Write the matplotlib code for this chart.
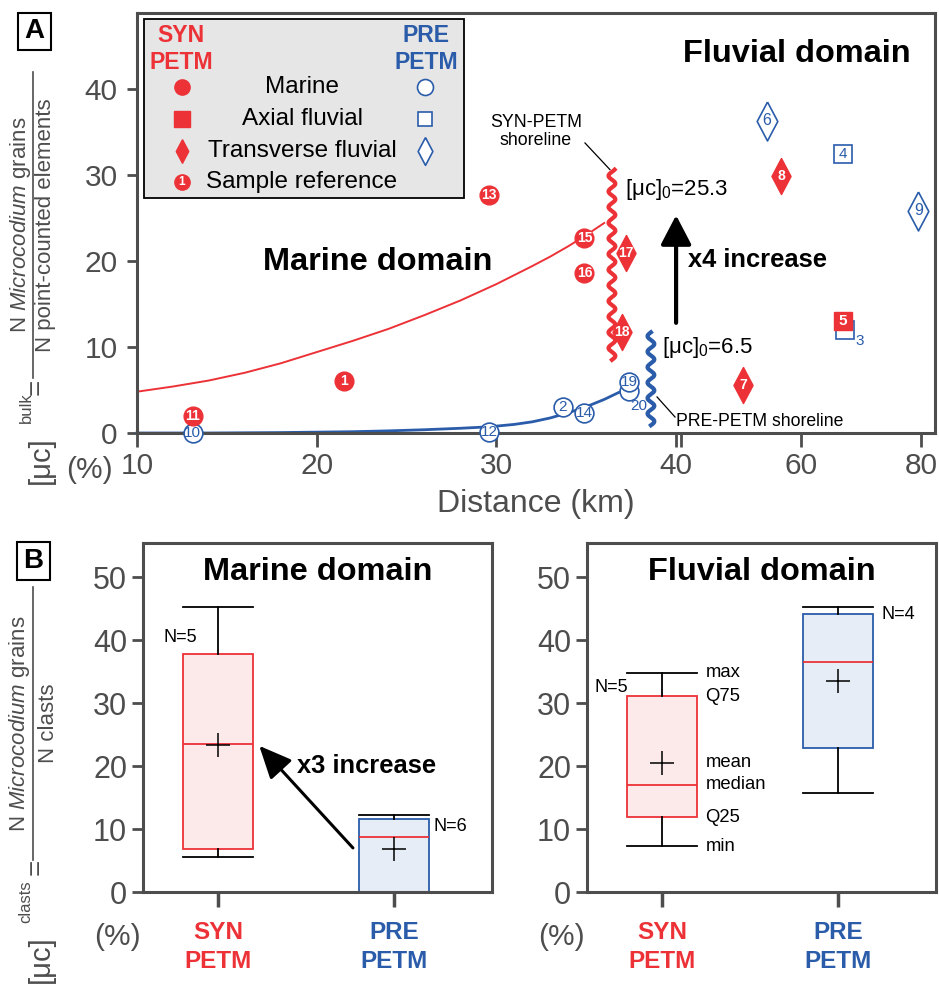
import numpy as np
import matplotlib.pyplot as plt
from matplotlib.patches import Rectangle
from matplotlib.lines import Line2D

plt.rcParams['font.family'] = ['Liberation Sans', 'DejaVu Sans']
plt.rcParams['mathtext.fontset'] = 'custom'
plt.rcParams['mathtext.rm'] = 'Liberation Sans'
plt.rcParams['mathtext.it'] = 'Liberation Sans:italic'
plt.rcParams['mathtext.bf'] = 'Liberation Sans:bold'

RED = '#ec3237'
BLUE = '#2a5caa'
GREY = '#4d4d4d'

# ── Panel A: samples (distance km, [uc]bulk %) ───────────────────────────────
syn_marine_id = [11, 1, 13, 15, 16]
syn_marine_x = [13.1, 21.5, 29.6, 34.9, 34.9]
syn_marine_y = [2.0, 6.0, 27.6, 22.7, 18.6]

syn_axial_id = [5]
syn_axial_x = [67.0]
syn_axial_y = [13.0]

syn_trans_id = [17, 18, 8, 7]
syn_trans_x = [37.2, 37.0, 56.7, 50.3]
syn_trans_y = [20.9, 11.7, 29.9, 5.6]

pre_marine_id = [10, 12, 2, 14, 20, 19]
pre_marine_x = [13.1, 29.6, 33.7, 34.9, 37.4, 37.4]
pre_marine_y = [0.0, 0.1, 3.0, 2.3, 4.9, 5.9]

pre_axial_id = [4, 3]
pre_axial_x = [67.0, 67.3]
pre_axial_y = [32.4, 12.0]

pre_trans_id = [6, 9]
pre_trans_x = [54.3, 79.5]
pre_trans_y = [36.3, 25.8]

# labels drawn beside (not inside) their symbol, offset in pixels
label_offset = {20: (9, -15), 3: (15, -11)}

# trend curves
red_curve_x = [10, 12, 14, 16, 18, 20, 22, 24, 26, 28, 30, 32, 33, 34, 35, 36]
red_curve_y = [4.8, 5.4, 6.1, 7.0, 8.1, 9.4, 10.7, 12.1, 13.7, 15.4, 17.3, 19.4,
               20.5, 21.7, 23.0, 24.4]
blue_curve_x = [10, 14, 18, 22, 24, 26, 28, 29.6, 31, 32, 33, 34, 35, 36, 36.9]
blue_curve_y = [0.0, 0.0, 0.05, 0.15, 0.25, 0.38, 0.55, 0.72, 1.0, 1.3, 1.75,
                2.35, 3.05, 3.9, 4.8]

# ── Panel B: box statistics ([uc]clasts %) ───────────────────────────────────
groups = ['SYN\nPETM', 'PRE\nPETM']
marine_min = [5.6, 0.0]
marine_q25 = [6.8, 0.0]
marine_med = [23.5, 8.8]
marine_q75 = [37.8, 11.6]
marine_max = [45.2, 12.2]
marine_mean = [23.3, 6.8]
marine_n = [5, 6]

fluvial_min = [7.3, 15.7]
fluvial_q25 = [11.9, 22.9]
fluvial_med = [17.0, 36.5]
fluvial_q75 = [31.1, 44.1]
fluvial_max = [34.8, 45.2]
fluvial_mean = [20.5, 33.5]
fluvial_n = [5, 4]

# ── broken distance axis: 10-40 km stretched, 40-80 km compressed ────────────
GAP, K = 0.28, 0.334


def fwd(x):
    x = np.asarray(x, dtype=float)
    return np.where(x <= 40, x, 40 + GAP + (x - 40) * K)


def inv(u):
    u = np.asarray(u, dtype=float)
    return np.where(u <= 40, u, np.where(u < 40 + GAP, 40.0, 40 + (u - 40 - GAP) / K))


DIAMOND = [(0, 1), (0.53, 0), (0, -1), (-0.53, 0), (0, 1)]

fig = plt.figure(figsize=(9.39, 9.84), dpi=100)
W, H = 939, 984


def fx(px):
    return px / W


def fy(py):
    return 1 - py / H


# ── Panel A ──────────────────────────────────────────────────────────────────
ax = fig.add_axes([fx(137), fy(433), 798 / W, 420 / H])
ax.set_xscale('function', functions=(fwd, inv))
ax.set_xlim(10, 82.3)
ax.set_ylim(0, 48.8)
for s in ax.spines.values():
    s.set_color(GREY)
    s.set_linewidth(2.2)
ax.set_xticks([10, 20, 30, 40, 60, 80])
ax.set_xticks([40.0001], minor=True)
ax.set_yticks([0, 10, 20, 30, 40])
ax.tick_params(axis='both', which='both', colors=GREY, labelsize=21.5, width=2)
ax.tick_params(axis='x', which='both', length=10, pad=4)
ax.tick_params(axis='y', length=7, pad=7)
ax.set_xlabel('Distance (km)', fontsize=23, color=GREY, labelpad=6)

ax.plot(red_curve_x, red_curve_y, color=RED, lw=1.4, zorder=2)
ax.plot(blue_curve_x, blue_curve_y, color=BLUE, lw=2.0, zorder=2, clip_on=False)

# wavy shorelines
yy = np.linspace(8.5, 30.6, 400)
ax.plot(36.43 + 0.19 * np.sin(2 * np.pi * (yy - 8.5) / 1.82), yy, color=RED, lw=3, zorder=3)
yy = np.linspace(0.9, 11.7, 250)
ax.plot(38.6 + 0.19 * np.sin(2 * np.pi * (yy - 0.9) / 1.8), yy, color=BLUE, lw=3, zorder=3)
ax.plot([34.93, 36.32], [33.7, 30.6], color='k', lw=0.9)
ax.plot([38.94, 39.94], [4.19, 1.86], color='k', lw=0.9)


def samples(xs, ys, ids, marker, ms, filled, color, z, fs):
    if filled:
        ax.plot(xs, ys, ls='none', marker=marker, ms=ms, mfc=color, mec=color,
                mew=1.0, clip_on=False, zorder=z)
    else:
        ax.plot(xs, ys, ls='none', marker=marker, ms=ms, mfc='white', mec=color,
                mew=1.2, clip_on=False, zorder=z)
    for i, x, y in zip(ids, xs, ys):
        dx, dy = label_offset.get(i, (0, 0))
        ax.annotate(str(i), (x, y), xytext=(dx * 0.72, dy * 0.72), textcoords='offset points',
                    ha='center', va='center', fontsize=fs,
                    color='white' if filled else color,
                    fontweight='bold' if filled else 'normal', zorder=z + 0.5,
                    annotation_clip=False)


samples(pre_marine_x, pre_marine_y, pre_marine_id, 'o', 13.5, False, BLUE, 4, 11)
samples(pre_axial_x, pre_axial_y, pre_axial_id, 's', 13, False, BLUE, 4, 11)
samples(pre_trans_x, pre_trans_y, pre_trans_id, DIAMOND, 28, False, BLUE, 4, 11.5)
samples(syn_marine_x, syn_marine_y, syn_marine_id, 'o', 13.5, True, RED, 6, 10)
samples(syn_axial_x, syn_axial_y, syn_axial_id, 's', 13, True, RED, 6, 11)
samples(syn_trans_x, syn_trans_y, syn_trans_id, DIAMOND, 26, True, RED, 6, 10)

ax.annotate('', xy=(40, 25.3), xytext=(40, 12.8),
            arrowprops=dict(arrowstyle='-|>,head_length=0.9,head_width=0.47', lw=3,
                            color='k', mutation_scale=20, shrinkA=0, shrinkB=0))
ax.text(41.2, 19.3, 'x4 increase', fontsize=18.4, fontweight='bold', va='baseline')
ax.text(37.16, 27.7, '[μc]$_0$=25.3', fontsize=16, va='baseline')
ax.text(39.2, 9.3, '[μc]$_0$=6.5', fontsize=16, va='baseline')
ax.text(32.2, 35.0, 'SYN-PETM\nshoreline', fontsize=12.8, ha='center', va='center',
        linespacing=1.1)
ax.text(39.98, 0.8, 'PRE-PETM shoreline', fontsize=12.7, va='baseline')
ax.text(17.0, 18.95, 'Marine domain', fontsize=23.4, fontweight='bold', va='baseline')
ax.text(40.33, 43.1, 'Fluvial domain', fontsize=23.4, fontweight='bold', va='baseline')


# legend box (axes fraction)
def afx(px):
    return (px - 137) / 798


def afy(py):
    return (433 - py) / 420


ax.add_patch(Rectangle((afx(144), afy(198)), 320 / 798, 179 / 420, transform=ax.transAxes,
                       fc='#e6e6e6', ec='k', lw=1.3, zorder=7))
ax.text(afx(181), afy(49), 'SYN\nPETM', transform=ax.transAxes, color=RED, fontsize=16.6,
        fontweight='bold', ha='center', va='center', linespacing=1.2, zorder=8)
ax.text(afx(426), afy(49), 'PRE\nPETM', transform=ax.transAxes, color=BLUE, fontsize=16.6,
        fontweight='bold', ha='center', va='center', linespacing=1.2, zorder=8)
rows = ['Marine', 'Axial fluvial', 'Transverse fluvial', 'Sample reference']
row_py = [87, 119, 151, 182]
red_sym = [('o', 11), ('s', 11), (DIAMOND, 17), ('o', 11)]
blue_sym = [('o', 11.5), ('s', 9.5), (DIAMOND, 20), None]
for name, py, rs, bs in zip(rows, row_py, red_sym, blue_sym):
    ax.text(afx(302), afy(py), name, transform=ax.transAxes, fontsize=17.5,
            ha='center', va='center', zorder=8)
    ax.plot([afx(182)], [afy(py)], transform=ax.transAxes, marker=rs[0], ms=rs[1],
            mfc=RED, mec=RED, ls='none', clip_on=False, zorder=8)
    if bs is not None:
        ax.plot([afx(425)], [afy(py)], transform=ax.transAxes, marker=bs[0], ms=bs[1],
                mfc='white', mec=BLUE, mew=1.2, ls='none', clip_on=False, zorder=8)
ax.text(afx(182), afy(182), '1', transform=ax.transAxes, color='white', fontsize=8.5,
        fontweight='bold', ha='center', va='center', zorder=9)

# panel letters
for letter, (x0, y0, y1) in {'A': (18, 13, 50), 'B': (17, 542, 580)}.items():
    fig.patches.append(Rectangle((fx(x0), fy(y1)), 33 / W, (y1 - y0) / H,
                                 transform=fig.transFigure, fill=False, ec='k', lw=1.5))
    fig.text(fx(x0 + 16.5), fy((y0 + y1) / 2), letter, fontsize=20, fontweight='bold',
             ha='center', va='center')


# y-axis labels built as a fraction
def ylabel(sup, num, den, bar_x, bar_top, bar_bot, num_x, den_x, eq_y, base_y, sup_y):
    mid = (bar_top + bar_bot) / 2
    kw = dict(rotation=90, rotation_mode='anchor', color=GREY)
    fig.text(fx(num_x), fy(mid), num, ha='center', va='center', fontsize=16, **kw)
    fig.text(fx(den_x), fy(mid), den, ha='center', va='center', fontsize=16, **kw)
    fig.add_artist(Line2D([fx(bar_x)] * 2, [fy(bar_top), fy(bar_bot)], color=GREY, lw=1.2))
    fig.text(fx(bar_x + 4), fy(eq_y), '=', ha='center', va='center', fontsize=20, **kw)
    fig.text(fx(bar_x + 8), fy(base_y), '[μc]', ha='left', va='center', fontsize=21, **kw)
    fig.text(fx(bar_x - 7), fy(sup_y), sup, ha='left', va='center', fontsize=12, **kw)


ylabel('bulk', 'N $\\mathit{Microcodium}$ grains', 'N point-counted elements',
       33, 72, 378, 21, 46, 387, 484, 423)
ylabel('clasts', 'N $\\mathit{Microcodium}$ grains', 'N clasts',
       33, 587, 860, 20, 48, 867, 983, 923)
fig.text(fx(89), fy(470), '(%)', fontsize=21.5, color=GREY, ha='center', va='center')


# ── Panel B ──────────────────────────────────────────────────────────────────
def box_panel(left_px, title, q_min, q25, med, q75, q_max, mean):
    axb = fig.add_axes([fx(left_px), fy(892), 349 / W, 349 / H])
    stats = [dict(whislo=a, q1=b, med=c, q3=d, whishi=e, mean=f)
             for a, b, c, d, e, f in zip(q_min, q25, med, q75, q_max, mean)]
    bp = axb.bxp(stats, positions=[1, 2], widths=0.4, capwidths=0.4, patch_artist=True,
                 showmeans=True, showfliers=False,
                 medianprops=dict(color=RED, lw=1.3),
                 whiskerprops=dict(color='k', lw=1.3),
                 capprops=dict(color='k', lw=1.3),
                 meanprops=dict(marker='+', ms=17, mec='k', mew=1.1))
    for patch, ec, fc in zip(bp['boxes'], [RED, BLUE], ['#fce9e9', '#e7edf6']):
        patch.set_facecolor(fc)
        patch.set_edgecolor(ec)
        patch.set_linewidth(1.3)
    axb.set_xlim(0.57, 2.56)
    axb.set_ylim(0, 55.4)
    for s in axb.spines.values():
        s.set_color(GREY)
        s.set_linewidth(2.2)
    axb.set_yticks([0, 10, 20, 30, 40, 50])
    axb.set_xticks([1, 2], groups)
    axb.tick_params(axis='y', colors=GREY, labelsize=22, length=8, width=2, pad=3.5)
    axb.tick_params(axis='x', colors=GREY, length=11, width=2.5, pad=10)
    for lab, c in zip(axb.get_xticklabels(), [RED, BLUE]):
        lab.set_color(c)
        lab.set_fontsize(17.5)
        lab.set_fontweight('bold')
        lab.set_linespacing(1.3)
    axb.text(1.565, 49.5, title, fontsize=23.4, fontweight='bold', ha='center', va='baseline')
    fig.text(fx(left_px - 26), fy(937), '(%)', fontsize=21.5, color=GREY,
             ha='center', va='center')
    return axb


axm = box_panel(143, 'Marine domain', marine_min, marine_q25, marine_med, marine_q75,
                marine_max, marine_mean)
axm.text(0.88, 39.7, f'N={marine_n[0]}', fontsize=13, ha='right', va='baseline')
axm.text(2.227, 9.7, f'N={marine_n[1]}', fontsize=13, ha='left', va='baseline')
axm.annotate('', xy=(1.233, 23.2), xytext=(1.767, 7.0),
             arrowprops=dict(arrowstyle='-|>,head_length=1.0,head_width=0.45', lw=2.2,
                             color='k', mutation_scale=20, shrinkA=0, shrinkB=0))
axm.text(1.449, 18.9, 'x3 increase', fontsize=18.4, fontweight='bold', va='baseline')

axf = box_panel(587, 'Fluvial domain', fluvial_min, fluvial_q25, fluvial_med, fluvial_q75,
                fluvial_max, fluvial_mean)
axf.text(0.806, 31.7, f'N={fluvial_n[0]}', fontsize=13, ha='right', va='baseline')
axf.text(2.251, 43.3, f'N={fluvial_n[1]}', fontsize=13, ha='left', va='baseline')
stat_names = ['max', 'Q75', 'mean', 'median', 'Q25', 'min']
stat_vals = [fluvial_max[0], fluvial_q75[0], fluvial_mean[0], fluvial_med[0],
             fluvial_q25[0], fluvial_min[0]]
for name, v in zip(stat_names, stat_vals):
    axf.text(1.246, v, name, fontsize=13.3, ha='left', va='center')

fig.savefig('out.png', dpi=100)
